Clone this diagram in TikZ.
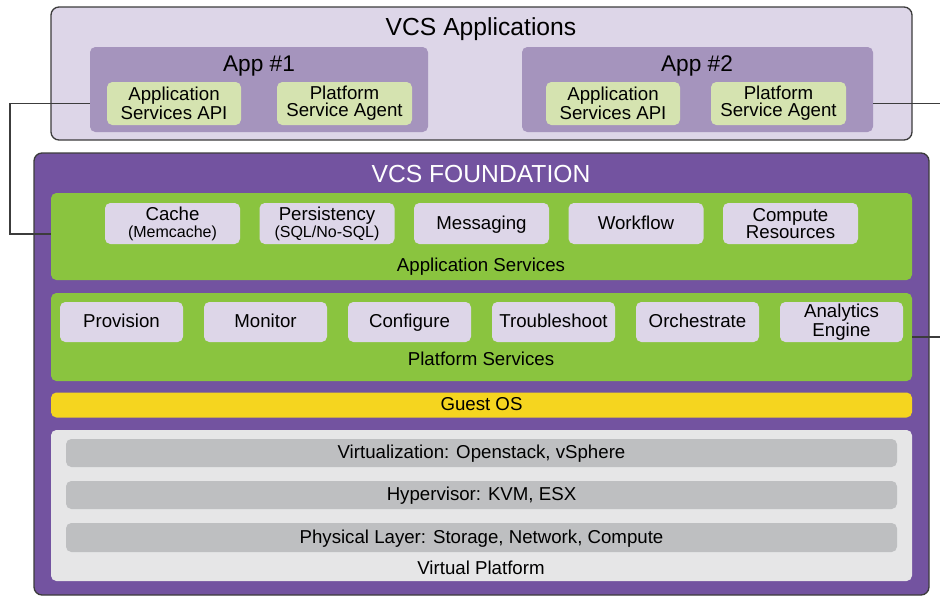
\documentclass[tikz,border=0pt]{standalone}
\usepackage{fontspec}
\setmainfont{Liberation Sans}
\definecolor{lav}{RGB}{221,214,232}
\definecolor{appfill}{RGB}{165,148,189}
\definecolor{palegreen}{RGB}{213,227,176}
\definecolor{vcspurple}{RGB}{115,83,160}
\definecolor{svcgreen}{RGB}{138,196,63}
\definecolor{osyellow}{RGB}{245,213,31}
\definecolor{vpgray}{RGB}{230,230,231}
\definecolor{bargray}{RGB}{190,191,193}
\definecolor{edge}{RGB}{60,60,60}
\tikzset{
  sz/.style 2 args={minimum width=#1*0.75pt, minimum height=#2*0.75pt},
  panel/.style={draw=none, inner sep=0pt, rounded corners=4pt},
  frame/.style={draw=edge, line width=1pt, inner sep=0pt, rounded corners=6pt},
  txt/.style={inner sep=0pt, align=center, font=\fontsize{14}{12.8}\selectfont},
  one/.style={text height=11pt, text depth=2.4pt},
  lbl/.style={inner sep=0pt, anchor=base, font=\fontsize{14}{12.8}\selectfont},
  head/.style={inner sep=0pt, anchor=base, font=\fontsize{18.5}{20}\selectfont},
  apphead/.style={inner sep=0pt, anchor=base, font=\fontsize{17}{19}\selectfont},
  link/.style={draw=edge, line width=1pt}
}
\newcommand\subline[1]{{\fontsize{12}{12}\selectfont #1}}
\begin{document}
\begin{tikzpicture}[x=0.75pt, y=-0.75pt]
\useasboundingbox (0,0) rectangle (940,596);

% ---------- applications layer ----------
\node[frame, fill=lav, sz={861}{133}] (apps) at (481.5,73.5) {};
\node[head] (appstitle) at (481,36) {VCS Applications};

\node[panel, fill=appfill, sz={338}{85}] (app1) at (259,89.5) {};
\node[apphead] (app1t) at (259,71) {App \#1};
\node[panel, fill=palegreen, sz={134}{43}, txt] (api1) at (174,103.5) {Application\\Services API};
\node[panel, fill=palegreen, sz={135}{43}, txt] (agent1) at (344.5,103.5) {Platform\\Service Agent};

\node[panel, fill=appfill, sz={351}{85}] (app2) at (697.5,89.5) {};
\node[apphead] (app2t) at (697,71) {App \#2};
\node[panel, fill=palegreen, sz={134}{43}, txt] (api2) at (613,103.5) {Application\\Services API};
\node[panel, fill=palegreen, sz={135}{43}, txt] (agent2) at (778.5,103.5) {Platform\\Service Agent};

% ---------- foundation ----------
\node[frame, fill=vcspurple, sz={895}{442}] (found) at (481.5,374) {};
\node[head, text=white] (foundt) at (481,182) {VCS FOUNDATION};

% application services
\node[panel, fill=svcgreen, sz={861}{87}] (appsvc) at (481.5,236.5) {};
\node[lbl] (appsvct) at (481,271) {Application Services};
\node[panel, fill=lav, sz={135}{41}, txt] (cache) at (172.5,223.5) {Cache\\\subline{(Memcache)}};
\node[panel, fill=lav, sz={135}{41}, txt] (persist) at (327,223.5) {Persistency\\\subline{(SQL/No-SQL)}};
\node[panel, fill=lav, sz={135}{41}, txt, one] (msg) at (481.5,223.5) {Messaging};
\node[panel, fill=lav, sz={135}{41}, txt, one] (wf) at (636,223.5) {Workflow};
\node[panel, fill=lav, sz={135}{41}, txt] (compute) at (790.5,223.5) {Compute\\Resources};

% platform services
\node[panel, fill=svcgreen, sz={861}{88}] (platsvc) at (481.5,337) {};
\node[lbl] (platsvct) at (481,365) {Platform Services};
\node[panel, fill=lav, sz={123}{40}, txt, one] (prov) at (121.5,322) {Provision};
\node[panel, fill=lav, sz={123}{40}, txt, one] (mon) at (265.5,322) {Monitor};
\node[panel, fill=lav, sz={123}{40}, txt, one] (conf) at (409.5,322) {Configure};
\node[panel, fill=lav, sz={123}{40}, txt, one] (trbl) at (553.5,322) {Troubleshoot};
\node[panel, fill=lav, sz={123}{40}, txt, one] (orch) at (697.5,322) {Orchestrate};
\node[panel, fill=lav, sz={123}{40}, txt] (anly) at (841.5,322) {Analytics\\Engine};

% guest OS
\node[panel, fill=osyellow, sz={861}{25}, txt, one] (guest) at (481.5,405) {Guest OS};

% virtual platform
\node[panel, fill=vpgray, sz={861}{151}] (vp) at (481.5,505.5) {};
\node[lbl] (vpt) at (481,574) {Virtual Platform};
\node[panel, fill=bargray, sz={831}{28}, txt, one] (virt) at (481.5,453) {Virtualization: Openstack, vSphere};
\node[panel, fill=bargray, sz={831}{28}, txt, one] (hyp) at (481.5,495) {Hypervisor: KVM, ESX};
\node[panel, fill=bargray, sz={831}{29}, txt, one] (phys) at (481.5,537.5) {Physical Layer: Storage, Network, Compute};

% ---------- connectors ----------
\coordinate (lrail) at (10,234);
\coordinate (rfree) at (940,0);
\draw[link] (app1.west |- api1) -| (lrail) -- (appsvc.west |- lrail);
\draw[link] (app2.east |- agent2) -- (rfree |- agent2);
\draw[link] (platsvc.east) -- (rfree |- platsvc.east);
\end{tikzpicture}
\end{document}
